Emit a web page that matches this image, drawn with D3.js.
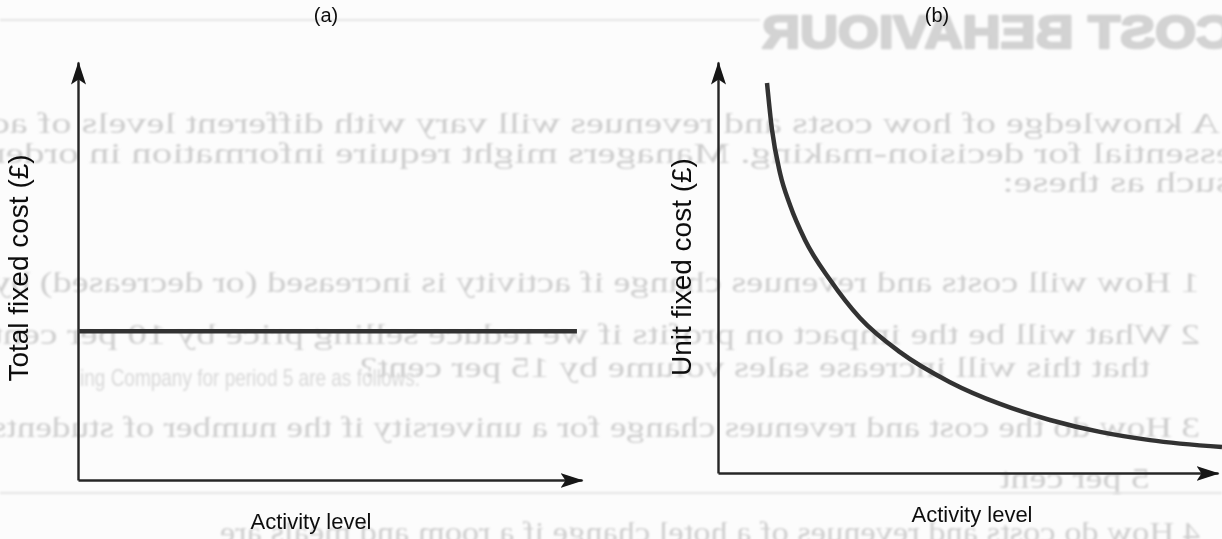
<!DOCTYPE html>
<html>
<head>
<meta charset="utf-8">
<script src="https://cdn.jsdelivr.net/npm/d3@7"></script>
<style>
  html, body { margin: 0; padding: 0; background: #fcfcfc; }
  svg { display: block; }
</style>
</head>
<body>
<svg id="chart" width="1222" height="539"></svg>
<script>
// Panel titles and axis labels
const panelTitles = ["(a)", "(b)"];
const yLabels = ["Total fixed cost (£)", "Unit fixed cost (£)"];
const xLabel = "Activity level";

// (a) total fixed cost stays flat as activity rises
const activityA = [0, 99];
const totalFixedCost = [35.6, 35.6];

// (b) unit fixed cost falls as activity rises
const activityB = [9.8, 10.8, 12.4, 14.4, 17.4, 22.4, 28.4, 36.4, 46.4, 56.4, 66.4, 76.4, 86.4, 100.8];
const unitFixedCost = [94.9, 83.5, 73.0, 65.2, 56.7, 47.0, 37.7, 29.4, 22.1, 16.8, 12.9, 10.0, 8.0, 6.3];

// Text printed on the reverse of the page, seen through the paper
const reverseText = [
  "COST BEHAVIOUR",
  "A knowledge of how costs and revenues will vary with different levels of ac",
  "essential for decision-making. Managers might require information in order",
  "such as these:",
  "1  How will costs and revenues change if activity is increased (or decreased) by",
  "2  What will be the impact on profits if we reduce selling price by 10 per cent",
  "that this will increase sales volume by 15 per cent?",
  "3  How do the cost and revenues change for a university if the number of students",
  "5 per cent",
  "4  How do costs and revenues of a hotel change if a room and meals are"
];

const W = 1222, H = 539;
const svg = d3.select("#chart");

const defs = svg.append("defs");
defs.append("filter").attr("id", "soft")
  .append("feGaussianBlur").attr("stdDeviation", 0.9);
defs.append("filter").attr("id", "ink")
  .append("feGaussianBlur").attr("stdDeviation", 0.45);
defs.append("marker")
  .attr("id", "arrow")
  .attr("markerUnits", "userSpaceOnUse")
  .attr("viewBox", "0 -8 24 16")
  .attr("markerWidth", 24).attr("markerHeight", 16)
  .attr("refX", 22).attr("refY", 0)
  .attr("orient", "auto")
  .append("path")
  .attr("d", "M0,-7.5L23,0L0,7.5L5,0Z")
  .attr("fill", "#151515");

// ---- show-through layer (mirrored) ----
const ghostLayout = [
  { r: 1234, l: 762, y: 48, size: 46, weight: 700, family: "'Liberation Sans', Arial, sans-serif", fill: "#d3d3d3", stroke: 2.6 },
  { r: 1220, l: -8, y: 133, size: 30 },
  { r: 1234, l: -8, y: 163, size: 30 },
  { r: 1232, l: 1002, y: 192, size: 30 },
  { r: 1200, l: -8, y: 292, size: 30 },
  { r: 1200, l: -8, y: 344, size: 30 },
  { r: 1150, l: 360, y: 377, size: 30 },
  { r: 1200, l: -8, y: 437, size: 30 },
  { r: 1150, l: 1000, y: 488, size: 30 },
  { r: 1200, l: 220, y: 542, size: 30 }
];
const ghost = svg.append("g")
  .attr("transform", `translate(${W},0) scale(-1,1)`)
  .attr("filter", "url(#soft)");
ghost.selectAll("text")
  .data(reverseText.map((t, i) => ({ t, ...ghostLayout[i] })))
  .join("text")
  .attr("x", d => W - d.r)
  .attr("y", d => d.y)
  .attr("textLength", d => d.r - d.l)
  .attr("lengthAdjust", "spacingAndGlyphs")
  .attr("font-family", d => d.family || "'Liberation Serif', 'DejaVu Serif', serif")
  .attr("font-size", d => d.size)
  .attr("font-weight", d => d.weight || 400)
  .attr("fill", d => d.fill || "#cecece")
  .attr("stroke", d => d.stroke ? d.fill : "none")
  .attr("stroke-width", d => d.stroke || 0)
  .attr("stroke-linejoin", "round")
  .text(d => d.t);

// Normal-facing fragment from the underlying sheet
svg.append("text")
  .attr("x", 80).attr("y", 386)
  .attr("textLength", 340).attr("lengthAdjust", "spacingAndGlyphs")
  .attr("font-family", "'Liberation Sans', Arial, sans-serif")
  .attr("font-size", 24).attr("fill", "#d8d8d8")
  .attr("filter", "url(#soft)")
  .text("ing Company for period 5 are as follows:");

// faint rules from the reverse side
svg.append("g").attr("stroke", "#e4e4e4").attr("stroke-width", 2).attr("filter", "url(#soft)")
  .selectAll("line")
  .data([[0, 760, 20], [0, 1222, 493]])
  .join("line")
  .attr("x1", d => d[0]).attr("x2", d => d[1])
  .attr("y1", d => d[2]).attr("y2", d => d[2]);

// ---- panels ----
const font = "'Liberation Sans', Arial, sans-serif";
const panels = [
  { x0: 78, x1: 582, y0: 480, y1: 62, xs: activityA, ys: totalFixedCost, curve: d3.curveLinear,
    titleX: 326, labelX: 311, labelY: 529, yLabelX: 28, yLabelY: 268 },
  { x0: 718, x1: 1218, y0: 473, y1: 62, xs: activityB, ys: unitFixedCost, curve: d3.curveMonotoneX,
    titleX: 937, labelX: 972, labelY: 522, yLabelX: 691, yLabelY: 267 }
];

const ink = svg.append("g").attr("filter", "url(#ink)");

panels.forEach((p, i) => {
  const x = d3.scaleLinear().domain([0, 100]).range([p.x0, p.x1]);
  const y = d3.scaleLinear().domain([0, 100]).range([p.y0, p.y1]);
  const g = ink.append("g");

  const xAxis = g.append("g")
    .attr("transform", `translate(0,${p.y0})`)
    .call(d3.axisBottom(x).tickValues([]).tickSizeOuter(0));
  const yAxis = g.append("g")
    .attr("transform", `translate(${p.x0},0)`)
    .call(d3.axisLeft(y).tickValues([]).tickSizeOuter(0));
  [xAxis, yAxis].forEach(a => a.select(".domain")
    .attr("stroke", "#262626")
    .attr("stroke-width", 2.4)
    .attr("marker-end", "url(#arrow)"));

  const line = d3.line()
    .x((d, k) => x(p.xs[k]))
    .y(d => y(d))
    .curve(p.curve);
  g.append("path")
    .attr("d", line(p.ys))
    .attr("fill", "none")
    .attr("stroke", "#333")
    .attr("stroke-width", 4.5)
    .attr("stroke-linecap", "butt");

  g.append("text")
    .attr("x", p.titleX).attr("y", 22)
    .attr("text-anchor", "middle")
    .attr("font-family", font).attr("font-size", 20)
    .attr("fill", "#111")
    .text(panelTitles[i]);

  g.append("text")
    .attr("transform", `translate(${p.yLabelX},${p.yLabelY}) rotate(-90)`)
    .attr("text-anchor", "middle")
    .attr("font-family", font).attr("font-size", 28)
    .attr("fill", "#111")
    .text(yLabels[i]);

  g.append("text")
    .attr("x", p.labelX).attr("y", p.labelY)
    .attr("text-anchor", "middle")
    .attr("font-family", font).attr("font-size", 22)
    .attr("fill", "#111")
    .text(xLabel);
});
</script>
</body>
</html>
